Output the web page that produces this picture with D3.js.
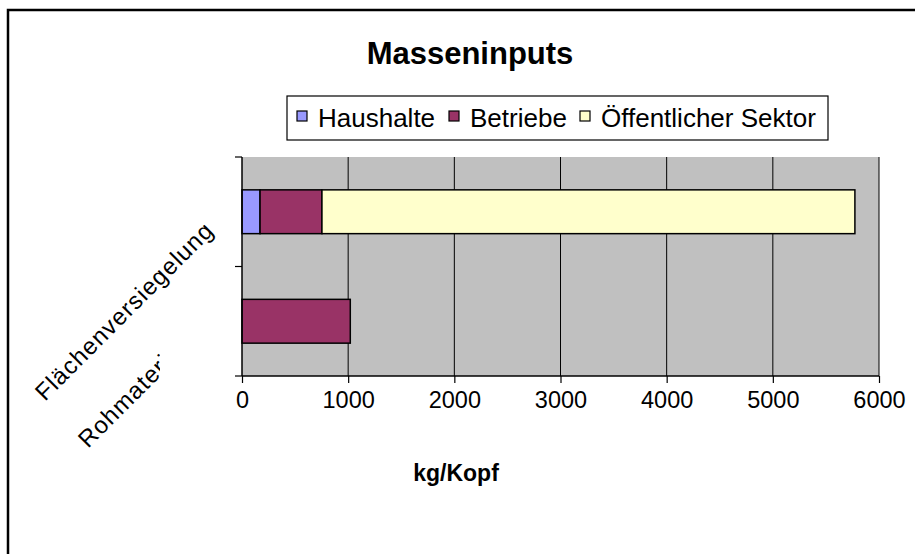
<!DOCTYPE html>
<html>
<head>
<meta charset="utf-8">
<script src="https://cdn.jsdelivr.net/npm/d3@7"></script>
<style>
  body { margin: 0; background: #fff; }
  svg text { font-family: Arial, "Liberation Sans", sans-serif; }
</style>
</head>
<body>
<script>
var width = 915;
var height = 554;

// data
var categories = ["Flächenversiegelung", "Rohmaterial"];
var seriesNames = ["Haushalte", "Betriebe", "Öffentlicher Sektor"];
var haushalte = [170, 0];
var betriebe = [583, 1020];
var oeffentlich = [5020, 0];
var xTicks = [0, 1000, 2000, 3000, 4000, 5000, 6000];
var colors = ["#9999FF", "#993366", "#FFFFCC"];

var plot = { left: 242, right: 879, top: 157, bottom: 376 };

var svg = d3.select("body").append("svg")
  .attr("width", width)
  .attr("height", height);

// outer chart border (right/bottom edges fall outside the picture)
svg.append("path")
  .attr("d", "M8,560 L8,10 L920,10")
  .attr("fill", "none")
  .attr("stroke", "#000")
  .attr("stroke-width", 2.5);

// title
svg.append("text")
  .attr("x", 470).attr("y", 64)
  .attr("text-anchor", "middle")
  .attr("font-size", "31px")
  .attr("font-weight", "bold")
  .text("Masseninputs");

// scales
var xScale = d3.scaleLinear().domain([0, 6000]).range([plot.left, plot.right]);
var yScale = d3.scaleBand().domain(categories).range([plot.top, plot.bottom]).paddingInner(0.6).paddingOuter(0.3);

// plot background
svg.append("rect")
  .attr("x", plot.left).attr("y", plot.top)
  .attr("width", plot.right - plot.left).attr("height", plot.bottom - plot.top)
  .attr("fill", "#C0C0C0");

// vertical gridlines
svg.append("g").selectAll("line")
  .data(xTicks.slice(1))
  .join("line")
  .attr("x1", d => xScale(d)).attr("x2", d => xScale(d))
  .attr("y1", plot.top).attr("y2", plot.bottom)
  .attr("stroke", "#000").attr("stroke-width", 1);

// stacked bars
var rows = categories.map((c, i) => ({ cat: c, Haushalte: haushalte[i], Betriebe: betriebe[i], "Öffentlicher Sektor": oeffentlich[i] }));
var stack = d3.stack().keys(seriesNames)(rows);

svg.append("g").selectAll("g")
  .data(stack)
  .join("g")
  .attr("fill", (d, i) => colors[i])
  .selectAll("rect")
  .data(d => d.filter(s => s[1] - s[0] > 0))
  .join("rect")
  .attr("x", d => xScale(d[0]))
  .attr("width", d => xScale(d[1]) - xScale(d[0]))
  .attr("y", d => yScale(d.data.cat))
  .attr("height", yScale.bandwidth())
  .attr("stroke", "#000")
  .attr("stroke-width", 1.5);

// x axis
var xAxis = svg.append("g")
  .attr("transform", "translate(0," + plot.bottom + ")")
  .call(d3.axisBottom(xScale).tickValues(xTicks).tickSize(7).tickPadding(8).tickFormat(d3.format("d")));
xAxis.select(".domain").attr("stroke", "#000").attr("stroke-width", 1.5).attr("d", "M" + plot.left + ",0H" + plot.right);
xAxis.selectAll(".tick line").attr("stroke", "#000").attr("stroke-width", 1.2);
xAxis.selectAll(".tick text").attr("font-size", "23.5px").attr("font-family", "Arial, 'Liberation Sans', sans-serif").attr("fill", "#000");

// y axis (category boundaries)
var yBounds = [plot.top, (plot.top + plot.bottom) / 2, plot.bottom];
svg.append("line")
  .attr("x1", plot.left).attr("x2", plot.left)
  .attr("y1", plot.top).attr("y2", plot.bottom)
  .attr("stroke", "#000").attr("stroke-width", 1.5);
svg.append("g").selectAll("line")
  .data(yBounds)
  .join("line")
  .attr("x1", plot.left - 7).attr("x2", plot.left)
  .attr("y1", d => d).attr("y2", d => d)
  .attr("stroke", "#000").attr("stroke-width", 1.2);

// x axis title
svg.append("text")
  .attr("x", 456).attr("y", 481)
  .attr("text-anchor", "middle")
  .attr("font-size", "23px")
  .attr("font-weight", "bold")
  .text("kg/Kopf");

// rotated category labels; the lower one is cut off behind the upper one
svg.append("defs").append("clipPath").attr("id", "rohclip")
  .append("rect").attr("x", 0).attr("y", 0).attr("width", 160).attr("height", height);

var labelPos = [[45, 402], [88, 449]];
svg.append("g").selectAll("g")
  .data(categories)
  .join("g")
  .attr("clip-path", (d, i) => i === 1 ? "url(#rohclip)" : null)
  .append("text")
  .attr("transform", (d, i) => "translate(" + labelPos[i][0] + "," + labelPos[i][1] + ") rotate(-45)")
  .attr("font-size", "24px")
  .attr("letter-spacing", "1px")
  .attr("fill", "#000")
  .text(d => d);

// legend
var legend = svg.append("g");
legend.append("rect")
  .attr("x", 287).attr("y", 96).attr("width", 541).attr("height", 44)
  .attr("fill", "#fff").attr("stroke", "#000").attr("stroke-width", 1.2);
var legX = [297, 449, 580];
var items = legend.selectAll("g.item")
  .data(seriesNames)
  .join("g")
  .attr("class", "item")
  .attr("transform", (d, i) => "translate(" + legX[i] + ",0)");
items.append("rect")
  .attr("x", 0).attr("y", 111).attr("width", 10).attr("height", 10)
  .attr("fill", (d, i) => colors[i]).attr("stroke", "#000").attr("stroke-width", 1.2);
items.append("text")
  .attr("x", 21).attr("y", 127)
  .attr("font-size", "26px")
  .text(d => d);
</script>
</body>
</html>
